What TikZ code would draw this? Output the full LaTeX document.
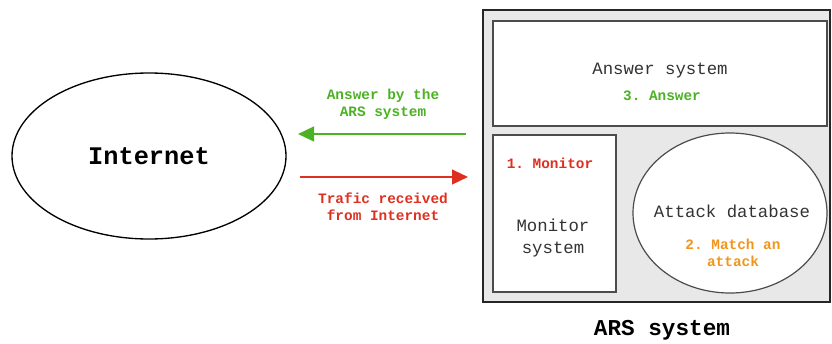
\documentclass[tikz,border=0pt]{standalone}
\usepackage{fontspec}
\setmonofont{Liberation Mono}
\usetikzlibrary{arrows.meta,shapes.geometric}
\definecolor{arsgreen}{RGB}{76,178,36}
\definecolor{arsred}{RGB}{222,48,32}
\definecolor{arsorange}{RGB}{240,150,30}
\definecolor{arsgray}{RGB}{232,232,232}
\tikzset{
  txt/.style={font=\ttfamily\fontsize{13}{16}\selectfont, text=black!80, align=center},
  lbl/.style={font=\ttfamily\bfseries\fontsize{10.8}{13}\selectfont, align=center},
  flow/.style={line width=1.8pt, -{Triangle[length=12pt,width=11pt]}},
  box/.style={draw=black!70, line width=0.9pt, fill=white},
}
\begin{document}
\begin{tikzpicture}[x=0.75pt,y=-0.75pt]
  \useasboundingbox (0,0) rectangle (832,343);

  % Internet cloud
  \node[ellipse, draw, line width=1pt, minimum width=274*0.75pt, minimum height=166*0.75pt,
        font=\ttfamily\bfseries\fontsize{19}{22}\selectfont] (internet) at (149,156) {Internet};

  % ARS system
  \draw[fill=arsgray, draw=black!85, line width=1.6pt] (483,10) rectangle (830,302);
  \draw[box] (493,21) rectangle (827,126);
  \draw[box] (493,135) rectangle (616,292);
  \node[ellipse, box, minimum width=194*0.75pt, minimum height=160*0.75pt] (db) at (730,213) {};

  \node[txt] (answer) at (660,71) {Answer system};
  \node[lbl, text=arsgreen] (step3) at (662,96) {3. Answer};
  \node[lbl, text=arsred] (step1) at (550,163) {1. Monitor};
  \node[txt, font=\ttfamily\fontsize{13}{15.8}\selectfont] (monitor) at (553,238) {Monitor\\system};
  \node[txt] (attack) at (732,211) {Attack database};
  \node[lbl, text=arsorange] (step2) at (733,253) {2. Match an\\attack};
  \node[font=\ttfamily\bfseries\fontsize{17}{20}\selectfont] (ars) at (662,330) {ARS system};

  % flows
  \coordinate (gfrom) at (466,134);
  \coordinate (gto) at (298,134);
  \coordinate (rfrom) at (300,177);
  \coordinate (rto) at (468,177);
  \draw[flow, arsgreen] (gfrom) -- (gto);
  \draw[flow, arsred] (rfrom) -- (rto);
  \node[lbl, text=arsgreen] (glabel) at (383,104) {Answer by the\\ARS system};
  \node[lbl, text=arsred] (rlabel) at (383,207) {Trafic received\\from Internet};
\end{tikzpicture}
\end{document}
